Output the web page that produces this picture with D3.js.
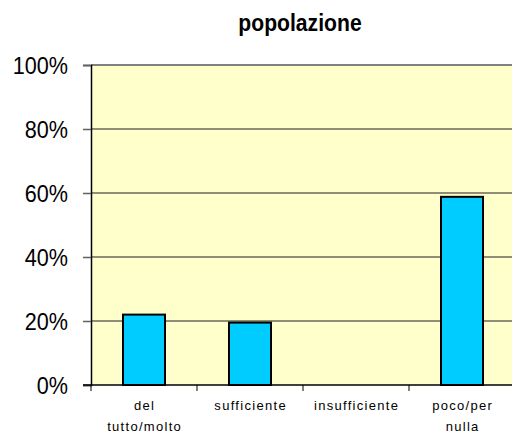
<!DOCTYPE html>
<html><head><meta charset="utf-8">
<script src="https://cdn.jsdelivr.net/npm/d3@7"></script>
<style>
html,body{margin:0;padding:0;background:#fff;}
svg{display:block;}
</style></head>
<body>
<svg id="chart" width="512" height="437"></svg>
<script>
const title = "popolazione";
const categories = ["del|tutto/molto", "sufficiente", "insufficiente", "poco/per|nulla"];
const values = [0.22, 0.195, 0, 0.588];
const yTicks = [0, 0.2, 0.4, 0.6, 0.8, 1.0];

(function() {
const svg = d3.select("#chart");
const mLeft = 91, mTop = 65, mBottom = 385;

const x = d3.scaleBand().domain(categories).range([mLeft, mLeft + 4 * 106]).paddingInner(0).paddingOuter(0);
const y = d3.scaleLinear().domain([0, 1]).range([mBottom, mTop]);

svg.append("rect").attr("x", mLeft).attr("y", mTop).attr("width", 512 - mLeft).attr("height", mBottom - mTop).attr("fill", "#FFFFCC");

svg.append("g").selectAll("line").data(yTicks.filter(d => d > 0 && d < 1)).join("line")
  .attr("x1", mLeft).attr("x2", 512).attr("y1", d => y(d)).attr("y2", d => y(d))
  .attr("stroke", "#6a6a58").attr("stroke-width", 1.3);
svg.append("line").attr("x1", mLeft).attr("x2", 512).attr("y1", y(1)).attr("y2", y(1))
  .attr("stroke", "#808080").attr("stroke-width", 2);

const bw = 42;
svg.append("g").selectAll("rect").data(values).join("rect")
  .attr("x", (d, i) => x(categories[i]) + x.bandwidth() / 2 - bw / 2)
  .attr("y", d => y(d))
  .attr("width", bw)
  .attr("height", d => mBottom - y(d))
  .attr("fill", "#00CCFF").attr("stroke", "#000").attr("stroke-width", 2)
  .attr("display", d => d > 0 ? null : "none");

const yAxis = svg.append("g").attr("transform", `translate(${mLeft},0)`)
  .call(d3.axisLeft(y).tickValues(yTicks).tickFormat(d3.format(".0%")).tickSize(8));
yAxis.select(".domain").attr("stroke", "#000").attr("stroke-width", 1.5);
yAxis.selectAll(".tick line").attr("stroke", "#606060").attr("stroke-width", 1.5);
yAxis.selectAll(".tick text").attr("fill", "#000")
  .attr("x", null).attr("dy", null)
  .attr("transform", "translate(-23,8.5) scale(0.9,1)")
  .style("font-family", "'Liberation Sans', Arial, sans-serif")
  .style("font-size", "24px");

svg.append("line").attr("x1", mLeft - 8).attr("x2", 512).attr("y1", mBottom).attr("y2", mBottom)
  .attr("stroke", "#000").attr("stroke-width", 1.5);
const xTicks = categories.map(c => x(c)).concat([x(categories[3]) + x.bandwidth()]);
svg.append("g").selectAll("line").data(xTicks).join("line")
  .attr("x1", d => d).attr("x2", d => d).attr("y1", mBottom).attr("y2", mBottom + 6)
  .attr("stroke", "#000").attr("stroke-width", 1);

const lab = svg.append("g").selectAll("text").data(categories).join("text")
  .attr("x", d => x(d) + x.bandwidth() / 2)
  .attr("y", 410)
  .attr("text-anchor", "middle")
  .style("font-family", "'Liberation Sans', Arial, sans-serif")
  .style("font-size", "13px")
  .style("letter-spacing", "1.3px")
  .attr("fill", "#000");
lab.each(function(d) {
  const parts = d.split("|");
  const t = d3.select(this);
  parts.forEach((p, i) => {
    t.append("tspan").attr("x", x(d) + x.bandwidth() / 2 + 0.65).attr("dy", i === 0 ? 0 : 21).text(p);
  });
});

svg.append("text").attr("x", 300).attr("y", 31).attr("text-anchor", "middle")
  .style("font-family", "'Liberation Sans', Arial, sans-serif")
  .style("font-size", "23px").style("font-weight", "bold").attr("fill", "#000")
  .attr("transform", "translate(300,0) scale(0.92,1) translate(-300,0)")
  .text(title);
})();
</script>
</body></html>
